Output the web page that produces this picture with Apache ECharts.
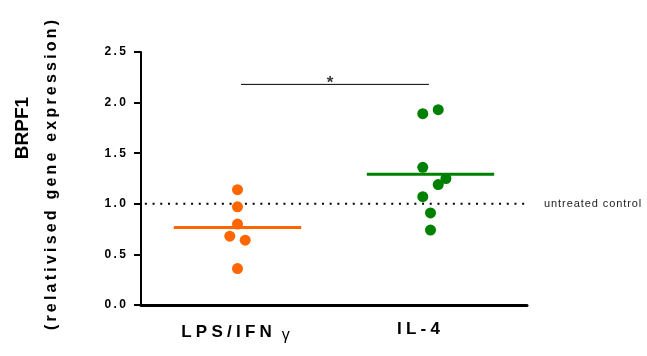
<!DOCTYPE html>
<html>
<head>
<meta charset="utf-8">
<script src="https://cdn.jsdelivr.net/npm/echarts@6/dist/echarts.min.js"></script>
<style>
  html, body { margin: 0; padding: 0; background: #fff; }
  #chart { width: 647px; height: 356px; }
</style>
</head>
<body>
<div id="chart"></div>
<script>
// Groups shown on the x axis
const groups = ['LPS/IFN', 'IL-4'];
const groupCenters = [0.5, 1.5];

// Relative BRPF1 expression per replicate
const lpsValues = [1.14, 0.97, 0.80, 0.68, 0.64, 0.36];
const il4Values = [1.89, 1.93, 1.36, 1.25, 1.19, 1.07, 0.91, 0.74];

// Horizontal jitter steps so overlapping dots stay visible
const lpsJitter = [0, 0, 0, -1, 1, 0];
const il4Jitter = [-1, 1, -1, 2, 1, -1, 0, 0];

// Y axis ticks
const yTicks = [0, 0.5, 1.0, 1.5, 2.0, 2.5];

// Untreated control level and significance bracket
const controlLevel = 1.0;
const sigBar = { from: 0.518, to: 1.492, level: 2.18, star: 0.98, text: '*' };

const ORANGE = '#FF6600';
const GREEN = '#008000';
const FONT = '"Liberation Sans", Arial, Helvetica, sans-serif';
const JITTER_STEP = 0.04;
const MEAN_HALF = 0.33;

const spaced = (s, sp) => s.split('').join(sp);
const mean = a => a.reduce((s, v) => s + v, 0) / a.length;

const lpsPoints = lpsValues.map((v, i) => [groupCenters[0] + lpsJitter[i] * JITTER_STEP, v]);
const il4Points = il4Values.map((v, i) => [groupCenters[1] + il4Jitter[i] * JITTER_STEP, v]);
const lpsMean = mean(lpsValues);
const il4Mean = mean(il4Values);

const chart = echarts.init(document.getElementById('chart'), null, { renderer: 'canvas' });

chart.setOption({
  animation: false,
  backgroundColor: '#fff',
  grid: { left: 141, right: 120, top: 52, bottom: 51 },
  xAxis: {
    type: 'value',
    min: 0, max: 2, interval: 0.5,
    axisLine: { show: true, lineStyle: { color: '#000', width: 3 } },
    axisTick: { show: false },
    splitLine: { show: false },
    axisLabel: {
      margin: 16,
      showMinLabel: true, showMaxLabel: true,
      formatter: v => {
        const idx = groupCenters.findIndex(c => Math.abs(c - v) < 1e-6);
        if (idx === 0) return '{b|' + spaced(groups[0], '\u2005') + '}{g|\u03b3}';
        if (idx === 1) return '{c|' + spaced(groups[1], '\u2005') + '}';
        return '';
      },
      rich: {
        b: { fontFamily: FONT, fontWeight: 'bold', fontSize: 17, color: '#000' },
        c: { fontFamily: FONT, fontWeight: 'bold', fontSize: 17, color: '#000', padding: [0, 24, 0, 0] },
        g: { fontFamily: FONT, fontSize: 16, color: '#000', padding: [7, 4, 0, 10] }
      }
    }
  },
  yAxis: {
    type: 'value',
    min: yTicks[0], max: yTicks[yTicks.length - 1], interval: 0.5,
    axisLine: { show: true, lineStyle: { color: '#000', width: 2 } },
    axisTick: { show: true, length: 7, lineStyle: { color: '#000', width: 2 } },
    splitLine: { show: false },
    axisLabel: {
      margin: 15,
      fontFamily: FONT, fontWeight: 'bold', fontSize: 12, color: '#000',
      formatter: v => spaced(v.toFixed(1), '\u2009')
    }
  },
  series: [
    {
      // untreated control reference
      type: 'line',
      data: [[0.02, controlLevel], [2, controlLevel]],
      symbol: 'none', silent: true, z: 1,
      lineStyle: { color: '#000', width: 2, type: [2, 5.7], cap: 'butt' },
      endLabel: {
        show: true, distance: 17,
        formatter: () => spaced('untreated control', '\u200a'),
        fontFamily: FONT, fontSize: 11, color: '#222'
      }
    },
    {
      // significance bracket
      type: 'line',
      data: [[sigBar.from, sigBar.level], [sigBar.to, sigBar.level]],
      symbol: 'none', silent: true,
      lineStyle: { color: '#000', width: 1 }
    },
    {
      // significance marker
      type: 'scatter',
      data: [[sigBar.star, sigBar.level]],
      symbolSize: 1, silent: true, z: 5,
      itemStyle: { color: 'rgba(0,0,0,0)' },
      label: {
        show: true, position: 'inside', formatter: sigBar.text, offset: [0, -1],
        fontFamily: FONT, fontWeight: 'bold', fontSize: 17, color: '#000'
      }
    },
    {
      type: 'scatter', data: lpsPoints, symbolSize: 11,
      itemStyle: { color: ORANGE, opacity: 1 }, z: 3
    },
    {
      type: 'scatter', data: il4Points, symbolSize: 11,
      itemStyle: { color: GREEN, opacity: 1 }, z: 3
    },
    {
      type: 'line',
      data: [[groupCenters[0] - MEAN_HALF, lpsMean], [groupCenters[0] + MEAN_HALF, lpsMean]],
      symbol: 'none', silent: true, z: 4,
      lineStyle: { color: ORANGE, width: 3 }
    },
    {
      type: 'line',
      data: [[groupCenters[1] - MEAN_HALF, il4Mean], [groupCenters[1] + MEAN_HALF, il4Mean]],
      symbol: 'none', silent: true, z: 4,
      lineStyle: { color: GREEN, width: 3 }
    }
  ],
  graphic: [
    {
      type: 'text', x: 23, y: 128, rotation: Math.PI / 2,
      style: {
        text: 'BRPF1',
        fontFamily: FONT, fontWeight: 'bold', fontSize: 19, fill: '#000',
        align: 'center', verticalAlign: 'middle'
      }
    },
    {
      type: 'text', x: 52, y: 175, rotation: Math.PI / 2,
      style: {
        text: spaced('(relativised gene expression)', '\u2009'),
        fontFamily: FONT, fontWeight: 'bold', fontSize: 16, fill: '#000',
        align: 'center', verticalAlign: 'middle'
      }
    }
  ]
});
</script>
</body>
</html>
